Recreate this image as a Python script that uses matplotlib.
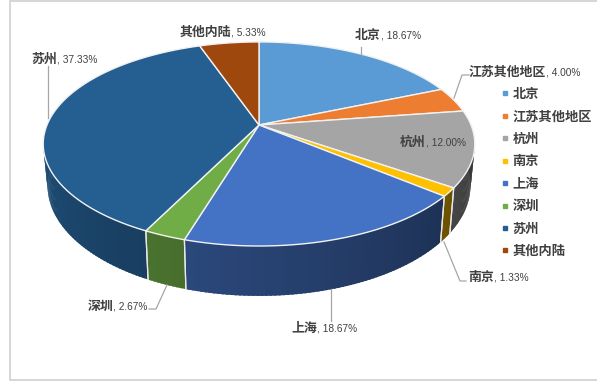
import numpy as np
import matplotlib
matplotlib.use("Agg")
import matplotlib.pyplot as plt
from matplotlib.colors import to_rgb
from matplotlib.lines import Line2D
from matplotlib.patches import Rectangle

# chart values
names = ["北京", "江苏其他地区", "杭州", "南京", "上海", "深圳", "苏州", "其他内陆"]
shares = [18.67, 4.00, 12.00, 1.33, 18.67, 2.67, 37.33, 5.33]
colors = ["#5B9BD5", "#ED7D31", "#A5A5A5", "#FFC000", "#4472C4", "#70AD47", "#255E91", "#9E480E"]

# label layout, pixels: x where name ends, y centre
label_x = [381, 546, 426, 494, 317, 113, 57, 231]
label_y = [35, 72, 142, 277, 328, 306, 59, 32]
leaders = [
    [(361, 47), (361, 54)],
    [(469, 75), (462, 75), (454, 98)],
    None,
    [(444, 242), (460, 281), (466, 281)],
    [(331, 289), (331, 321)],
    [(167, 285), (156, 309), (149, 309)],
    [(48, 66), (48, 118)],
    None,
]

CX, CY = 259, 125
TEXT = "#404040"
CJK = ["Noto Sans CJK SC", "DejaVu Sans"]


def top_face(deg):
    # angle clockwise from 12 o'clock, perspective disc
    t = np.radians(deg)
    w = 1 + 0.186 * np.cos(t)
    return CX + 212 * np.sin(t) / w, CY - 98.5 * np.cos(t) / w


def bottom_face(deg):
    x, y = top_face(deg)
    return CX + (x - CX) * 0.98, y + 46 + 0.08 * (y - 197)


def shade(deg):
    # sides get darker from left to right
    return np.clip(0.35 + (deg - 100) / 170 * 0.5, 0.3, 0.85)


fig = plt.figure(figsize=(5.97, 3.81), dpi=100)
ax = fig.add_axes([0, 0, 1, 1])
ax.set_xlim(0, 597)
ax.set_ylim(381, 0)
ax.axis("off")
ax.add_patch(Rectangle((9.5, 0.6), 600, 379.8, fc="white", ec="#D0D0D0", lw=1.2, zorder=0))

edges = np.concatenate([[0], np.cumsum(shares) / sum(shares) * 360])

# side wall
for i, col in enumerate(colors):
    a0, a1 = edges[i], edges[i + 1]
    steps = np.linspace(a0, a1, max(int(a1 - a0) + 2, 2))
    # left to right over the front so each strip overlaps the last seam
    for s0, s1 in zip(steps[-2::-1], steps[:0:-1]):
        s2 = min(s1 + 0.6, a1)
        xt0, yt0 = top_face(s0)
        xt1, yt1 = top_face(s2)
        xb0, yb0 = bottom_face(s0)
        xb1, yb1 = bottom_face(s2)
        c = np.array(to_rgb(col)) * shade((s0 + s1) / 2)
        ax.fill([xt0, xt1, xb1, xb0], [yt0, yt1, yb1, yb0], fc=c, ec="none", zorder=2)
    for a in (a0, a1):
        if 95 < a < 275:
            xt, yt = top_face(a)
            xb, yb = bottom_face(a)
            ax.plot([xt, xb], [yt, yb], color="#E8E8E8", lw=0.9, zorder=3)

# top of the pie
for i, col in enumerate(colors):
    arc = np.linspace(edges[i], edges[i + 1], 80)
    xs, ys = top_face(arc)
    ax.fill(np.r_[CX, xs], np.r_[CY, ys], fc=col, ec="#F2F2F2", lw=1, joinstyle="round", zorder=4)

# data labels
for i, name in enumerate(names):
    ax.text(label_x[i], label_y[i], name, ha="right", va="center", fontsize=9.3,
            fontweight="bold", family=CJK, color=TEXT, zorder=6)
    ax.text(label_x[i], label_y[i] + 0.5, f", {shares[i]:.2f}%", ha="left", va="center",
            fontsize=7.3, family="Liberation Sans", color=TEXT, zorder=6)
    if leaders[i]:
        lx, ly = zip(*leaders[i])
        ax.plot(lx, ly, color="#A6A6A6", lw=0.9, zorder=5)

handles = [Line2D([], [], ls="", marker="s", ms=2.6, color=c, label=n) for n, c in zip(names, colors)]
ax.legend(handles=handles, loc="upper left", bbox_to_anchor=(498 / 597, 1 - 87 / 381),
          frameon=False, handlelength=1, handletextpad=0.1, labelspacing=0.64, borderpad=0,
          borderaxespad=0, labelcolor=TEXT,
          prop={"family": CJK, "size": 9.5, "weight": "bold"})

fig.savefig("out.png", dpi=100)
